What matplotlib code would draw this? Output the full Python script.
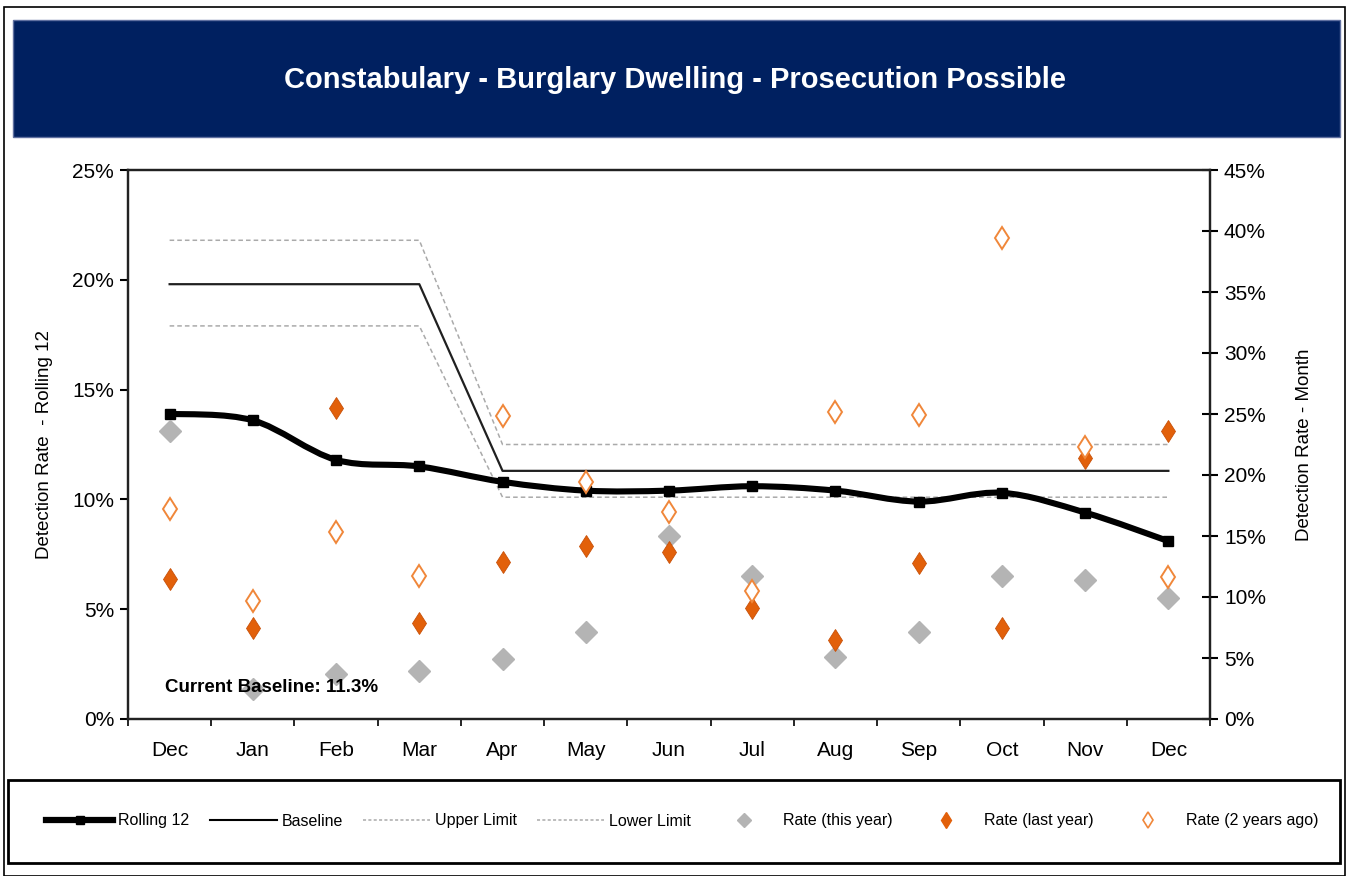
#!/usr/bin/env python3
"""
Constabulary - Burglary Dwelling - Prosecution Possible
Rolling 12 detection rate vs baseline, with monthly rates on a second axis.
"""

import numpy as np
import matplotlib
matplotlib.use("Agg")
import matplotlib.pyplot as plt
from matplotlib.lines import Line2D
from matplotlib.patches import Rectangle, PathPatch
from matplotlib.path import Path
from matplotlib.ticker import FuncFormatter, FixedLocator

# ── data ──────────────────────────────────────────────────────────────────────

months = ["Dec", "Jan", "Feb", "Mar", "Apr", "May", "Jun",
          "Jul", "Aug", "Sep", "Oct", "Nov", "Dec"]

# left axis, %
rolling_12  = [13.9, 13.6, 11.8, 11.5, 10.8, 10.4, 10.4, 10.6, 10.4, 9.9, 10.3, 9.4, 8.1]
baseline    = [19.8, 19.8, 19.8, 19.8, 11.3, 11.3, 11.3, 11.3, 11.3, 11.3, 11.3, 11.3, 11.3]
upper_limit = [21.8, 21.8, 21.8, 21.8, 12.5, 12.5, 12.5, 12.5, 12.5, 12.5, 12.5, 12.5, 12.5]
lower_limit = [17.9, 17.9, 17.9, 17.9, 10.1, 10.1, 10.1, 10.1, 10.1, 10.1, 10.1, 10.1, 10.1]

# right axis, %
rate_this_year = [23.6, 2.5, 3.7, 3.9, 4.9, 7.1, 15.0, 11.7, 5.1, 7.1, 11.7, 11.4, 9.9]
rate_last_year = [11.5, 7.5, 25.5, 7.9, 12.9, 14.2, 13.7, 9.1, 6.5, 12.8, 7.5, 21.4, 23.6]
rate_2yrs_ago  = [17.2, 9.7, 15.3, 11.7, 24.8, 19.4, 17.0, 10.5, 25.2, 24.9, 39.4, 22.3, 11.6]

current_baseline = 11.3

NAVY = "#002060"
ORANGE = "#E2600A"
ORANGE_LT = "#F0873A"
GREY = "#B4B4B4"
LIMIT_GREY = "#AAAAAA"

plt.rcParams["font.family"] = ["Liberation Sans", "DejaVu Sans"]


def smooth_path(xs, ys):
    """Excel-style smoothed line: Catmull-Rom converted to cubic Bezier."""
    pts = np.column_stack([xs, ys]).astype(float)
    verts = [pts[0]]
    codes = [Path.MOVETO]
    n = len(pts)
    for i in range(n - 1):
        p0 = pts[max(i - 1, 0)]
        p1 = pts[i]
        p2 = pts[i + 1]
        p3 = pts[min(i + 2, n - 1)]
        c1 = p1 + (p2 - p0) / 6.0
        c2 = p2 - (p3 - p1) / 6.0
        verts += [c1, c2, p2]
        codes += [Path.CURVE4] * 3
    return Path(verts, codes)


# ── figure ────────────────────────────────────────────────────────────────────

fig = plt.figure(figsize=(13.49, 8.76), dpi=100)

# outer frame
fig.patches.append(Rectangle((0.003, 0.0), 0.994, 0.992, transform=fig.transFigure,
                             fill=False, edgecolor="black", linewidth=1.2))
# title banner
fig.patches.append(Rectangle((13 / 1349, 1 - 137 / 876), 1327 / 1349, 117 / 876,
                             transform=fig.transFigure, facecolor=NAVY,
                             edgecolor="#6070A0", linewidth=1))
fig.text(0.5, 1 - 80 / 876, "Constabulary - Burglary Dwelling - Prosecution Possible",
         ha="center", va="center", color="white", fontsize=21, fontweight="bold")

ax = fig.add_axes([128 / 1349, 1 - 719 / 876, 1082 / 1349, 549 / 876])
ax2 = ax.twinx()

x = np.arange(len(months))

# baseline + control limits
ax.plot(x, upper_limit, color=LIMIT_GREY, lw=1.1, ls=(0, (3, 2)))
ax.plot(x, lower_limit, color=LIMIT_GREY, lw=1.1, ls=(0, (3, 2)))
ax.plot(x, baseline, color="#202020", lw=1.6)

# rolling 12, smoothed
ax.add_patch(PathPatch(smooth_path(x, rolling_12), facecolor="none",
                       edgecolor="black", lw=4.4, capstyle="round", zorder=4))
ax.plot(x, rolling_12, ls="none", marker="s", ms=7, color="black", zorder=5)

# monthly rates on the right axis
ax2.plot(x, rate_this_year, ls="none", marker="D", ms=11, color=GREY,
         markeredgecolor=GREY, zorder=3)
ax2.plot(x, rate_last_year, ls="none", marker="d", ms=11.5, color=ORANGE,
         markeredgecolor="#C85008", markeredgewidth=0.6, zorder=4)
ax2.plot(x, rate_2yrs_ago, ls="none", marker="d", ms=11.5, markerfacecolor="white",
         markeredgecolor=ORANGE_LT, markeredgewidth=1.4, zorder=4)

# axes styling
ax.set_xlim(-0.5, len(months) - 0.5)
ax.set_ylim(0, 25)
ax2.set_ylim(0, 45)
ax.set_yticks(np.arange(0, 26, 5))
ax2.set_yticks(np.arange(0, 46, 5))
pct = FuncFormatter(lambda v, _: f"{v:.0f}%")
ax.yaxis.set_major_formatter(pct)
ax2.yaxis.set_major_formatter(pct)

ax.set_xticks(x)
ax.set_xticklabels(months, fontsize=15)
ax.xaxis.set_minor_locator(FixedLocator(np.arange(-0.5, len(months), 1.0)))
ax.tick_params(axis="x", which="major", length=0, pad=16)
ax.tick_params(axis="x", which="minor", length=5, width=1.2, direction="out")
ax.tick_params(axis="y", labelsize=15, length=6, width=1.5, direction="out", pad=4)
ax2.tick_params(axis="y", labelsize=15, length=12, width=1.5, direction="inout", pad=4)

for a in (ax, ax2):
    for s in a.spines.values():
        s.set_linewidth(1.6)
        s.set_color("#222222")

ax.set_ylabel("Detection Rate  - Rolling 12", fontsize=13.5, labelpad=14)
ax2.set_ylabel("Detection Rate - Month", fontsize=13.5, labelpad=22)

ax2.text(0.034, 0.05, f"Current Baseline: {current_baseline}%", transform=ax.transAxes,
         fontsize=13.5, fontweight="bold", color="black", zorder=10)

# legend strip
fig.patches.append(Rectangle((8 / 1349, 1 - 863 / 876), 1332 / 1349, 83 / 876,
                             transform=fig.transFigure, fill=False,
                             edgecolor="black", linewidth=2))
handles = [
    Line2D([], [], color="black", lw=4.5, marker="s", ms=6),
    Line2D([], [], color="black", lw=1.5),
    Line2D([], [], color=LIMIT_GREY, lw=1.1, ls=(0, (2, 1.5))),
    Line2D([], [], color=LIMIT_GREY, lw=1.1, ls=(0, (2, 1.5))),
    Line2D([], [], ls="none", marker="D", ms=7, color=GREY),
    Line2D([], [], ls="none", marker="d", ms=8, color=ORANGE),
    Line2D([], [], ls="none", marker="d", ms=8, markerfacecolor="white",
           markeredgecolor=ORANGE_LT, markeredgewidth=1.2),
]
labels = ["Rolling 12", "Baseline", "Upper Limit", "Lower Limit",
          "Rate (this year)", "Rate (last year)", "Rate (2 years ago)"]
fig.legend(handles, labels, loc="center", ncol=7, frameon=False, mode="expand",
           bbox_to_anchor=(40 / 1349, 1 - 845 / 876, 1285 / 1349, 48 / 876),
           fontsize=11.5, handlelength=4.2, columnspacing=1.0, handletextpad=0.3,
           borderaxespad=0)

fig.savefig("out.png", dpi=100)
plt.close(fig)
